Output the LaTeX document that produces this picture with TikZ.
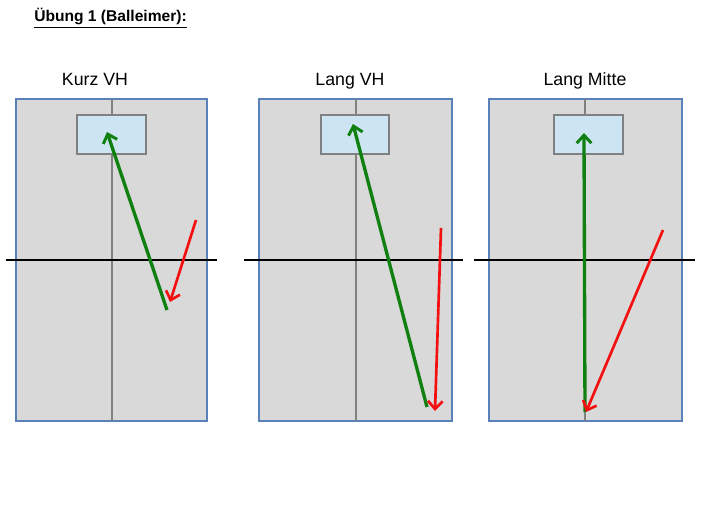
\documentclass[tikz,border=0pt]{standalone}
\usepackage{fontspec}
\setmainfont{Liberation Sans}
\usetikzlibrary{arrows.meta}

\definecolor{courtfill}{HTML}{D9D9D9}
\definecolor{courtline}{HTML}{5A82BA}
\definecolor{bucketfill}{HTML}{CDE4F3}
\definecolor{midgray}{HTML}{808080}
\definecolor{passgreen}{HTML}{108010}
\definecolor{ballred}{HTML}{F41010}

\tikzset{
    court/.style = {fill = courtfill, draw = courtline, line width = 1.6pt},
    midline/.style = {draw = midgray, line width = 1.6pt},
    bucket/.style = {fill = bucketfill, draw = midgray, line width = 0.8pt},
    netline/.style = {draw = black, line width = 1.6pt},
    pass/.style = {draw = passgreen, line width = 2.5pt, -{Straight Barb[length=6pt,width=11pt,line width=2.2pt]}},
    ball/.style = {draw = ballred, line width = 2pt, -{Straight Barb[length=6pt,width=11pt,line width=2pt]}},
    caption/.style = {font = \fontsize{13.3}{16}\selectfont, anchor = base, inner sep = 0pt}
}

\begin{document}
\begin{tikzpicture}[x=0.75pt, y=-0.75pt]
    \useasboundingbox (0,0) rectangle (701,517);

    \node[anchor = base west, inner sep = 0pt, font = \fontsize{11.7}{14}\selectfont\bfseries] (title) at (34,22) {\underline{Übung 1 (Balleimer):}};

    % Kurz VH
    \coordinate (A1) at (16,99);
    \coordinate (A2) at (207,421);
    \coordinate (AT) at (112,99);
    \coordinate (AB) at (112,421);
    \coordinate (AW) at (6,260);
    \coordinate (AE) at (217,260);
    \coordinate (AS) at (167,310);
    \coordinate (AG) at (107,132);
    \coordinate (AR) at (196,220);
    \coordinate (AH) at (170,302);

    \node[caption] (kurz) at (95,86) {Kurz VH};
    \draw[court] (A1) rectangle (A2);
    \draw[midline] (AT) -- (AB);
    \draw[bucket] (77,115) rectangle (146,154);
    \draw[netline] (AW) -- (AE);
    \draw[pass] (AS) -- (AG);
    \draw[ball] (AR) -- (AH);

    % Lang VH
    \coordinate (B1) at (259,99);
    \coordinate (B2) at (452,421);
    \coordinate (BT) at (356,99);
    \coordinate (BB) at (356,421);
    \coordinate (BW) at (244,260);
    \coordinate (BE) at (463,260);
    \coordinate (BS) at (427,407);
    \coordinate (BG) at (353,124);
    \coordinate (BR) at (441,228);
    \coordinate (BH) at (435,411);

    \node[caption] (langvh) at (350,86) {Lang VH};
    \draw[court] (B1) rectangle (B2);
    \draw[midline] (BT) -- (BB);
    \draw[bucket] (321,115) rectangle (389,154);
    \draw[netline] (BW) -- (BE);
    \draw[pass] (BS) -- (BG);
    \draw[ball] (BR) -- (BH);

    % Lang Mitte
    \coordinate (C1) at (489,99);
    \coordinate (C2) at (682,421);
    \coordinate (CT) at (585,99);
    \coordinate (CB) at (585,421);
    \coordinate (CW) at (474,260);
    \coordinate (CE) at (695,260);
    \coordinate (CS) at (585,412);
    \coordinate (CG) at (584,133);
    \coordinate (CR) at (663,230);
    \coordinate (CH) at (586,412);

    \node[caption] (langmitte) at (585,86) {Lang Mitte};
    \draw[court] (C1) rectangle (C2);
    \draw[midline] (CT) -- (CB);
    \draw[bucket] (554,115) rectangle (623,154);
    \draw[netline] (CW) -- (CE);
    \draw[pass] (CS) -- (CG);
    \draw[ball] (CR) -- (CH);
\end{tikzpicture}
\end{document}
